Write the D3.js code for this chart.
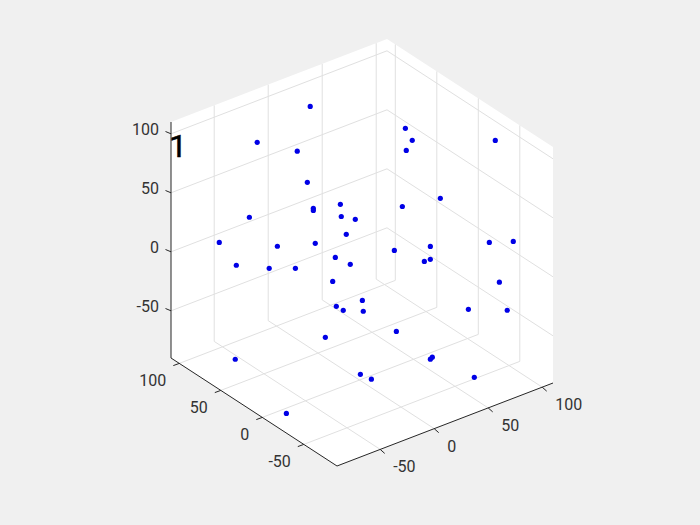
<!DOCTYPE html>
<html><head><meta charset="utf-8">
<script src="https://cdnjs.cloudflare.com/ajax/libs/d3/7.8.5/d3.min.js"></script>
<style>html,body{margin:0;padding:0;background:#f0f0f0}svg{display:block}text{font-family:Roboto,"Liberation Sans",Arial,sans-serif}</style>
</head><body><svg id="c" width="700" height="525"></svg>
<script>
const xs=[10.7,-38.4,-17.0,-23.4,-2.1,-49.2,-8.5,-39.0,21.0,-18.7,-61.3,-73.5,-66.8,-0.3,-60.2,47.8,-73.4,-58.7,-65.8,-15.6,-43.6,25.6,-3.8,28.4,-22.4,-74.4,-82.0,12.0,27.8,29.6,-21.3,-26.8,52.8,78.7,83.3,91.7,98.8,89.5,68.2,103.6,68.4,48.9,82.4,88.9,90.5,25.8,37.9,74.8];
const ys=[73.3,73.3,52.9,32.4,52.9,-8.4,12,-28.8,32.4,-8.4,52.9,73.3,12,52.9,-49.2,73.3,52.9,32.4,-8.4,12,-28.8,52.9,-8.4,32.4,12,52.9,-18.6,-28.8,-49.2,-49.2,-28.8,-49.2,-69.6,-28.8,-69.6,-49.2,73.3,52.9,32.4,-28.8,-8.4,12,-49.2,-69.6,32.4,-8.4,-28.8,12];
const zs=[104.6,91.4,85.7,71.0,32.1,74.9,56.4,75.5,24.0,43.9,45.3,18.9,41.4,1.8,57.6,-42.3,8.9,10.5,31.7,-6.4,1.0,-64.1,-17.3,-56.5,-51.4,-70.4,-80.9,-39.8,-59.6,-58.5,-64.5,-57.3,-74.4,-44.6,-28.3,-16.8,55.0,57.5,65.8,89.8,43.8,34.4,20.2,28.1,-23.4,14.6,10.4,-19.5];
const xTicks=[-50,0,50,100], yTicks=[-50,0,50,100], zTicks=[-50,0,50,100];
const xLim=[-90,110], yLim=[-90,110], zLim=[-90,110];
const panelLabel="1";

const fx=d3.scaleLinear().domain(xLim).range([0,1]);
const fy=d3.scaleLinear().domain(yLim).range([0,1]);
const fz=d3.scaleLinear().domain(zLim).range([0,1]);
const P=(x,y,z)=>[337+216*fx(x)-166*fy(y), 466-83*fx(x)-108*fy(y)-236*fz(z)];

const svg=d3.select("#c");
const line=d3.line();
const [x0,x1]=xLim,[y0,y1]=yLim,[z0,z1]=zLim;

svg.append("path").attr("d",line([P(x0,y1,z0),P(x0,y0,z0),P(x1,y0,z0),P(x1,y0,z1),P(x1,y1,z1),P(x0,y1,z1)])+"Z").attr("fill","#fff");

const grid=[];
xTicks.forEach(t=>{grid.push([P(t,y1,z0),P(t,y1,z1)]);grid.push([P(t,y0,z0),P(t,y1,z0)]);});
yTicks.forEach(t=>{grid.push([P(x1,t,z0),P(x1,t,z1)]);grid.push([P(x0,t,z0),P(x1,t,z0)]);});
zTicks.forEach(t=>{grid.push([P(x0,y1,t),P(x1,y1,t),P(x1,y0,t)]);});
svg.append("g").selectAll("path").data(grid).join("path").attr("d",d=>line(d)).attr("fill","none").attr("stroke","#e0e0e0").attr("stroke-width",1);

const ink="#262626";
const ax=svg.append("g").attr("fill","none").attr("stroke",ink).attr("stroke-width",1);
ax.append("path").attr("d",line([P(x0,y1,z1),P(x0,y1,z0),P(x0,y0,z0),P(x1,y0,z0)]));

const tl=svg.append("g").attr("font-size",16).attr("fill","#333");
function ticks(vals,pt,dx,dy,lx,ly,anchor){
  vals.forEach(t=>{
    const p=pt(t);
    ax.append("path").attr("d",line([p,[p[0]+dx,p[1]+dy]]));
    tl.append("text").attr("x",p[0]+lx).attr("y",p[1]+ly).attr("text-anchor",anchor).text(d3.format("d")(t).replace("−","-"));
  });
}
ticks(xTicks,t=>P(t,y0,z0),4.5,4,13,23,"start");
ticks(yTicks,t=>P(x0,t,z0),-6,2.2,-13,23,"end");
ticks(zTicks,t=>P(x0,y1,t),-5.5,-2.3,-12,1,"end");

svg.append("g").selectAll("circle").data(d3.range(xs.length)).join("circle")
  .attr("cx",i=>P(xs[i],ys[i],zs[i])[0]).attr("cy",i=>P(xs[i],ys[i],zs[i])[1])
  .attr("r",2.6).attr("fill","#0000e6");

svg.append("text").attr("x",169).attr("y",157).attr("font-size",32).attr("stroke","#000").attr("stroke-width",0.5).attr("fill","#000").text(panelLabel);
</script></body></html>
